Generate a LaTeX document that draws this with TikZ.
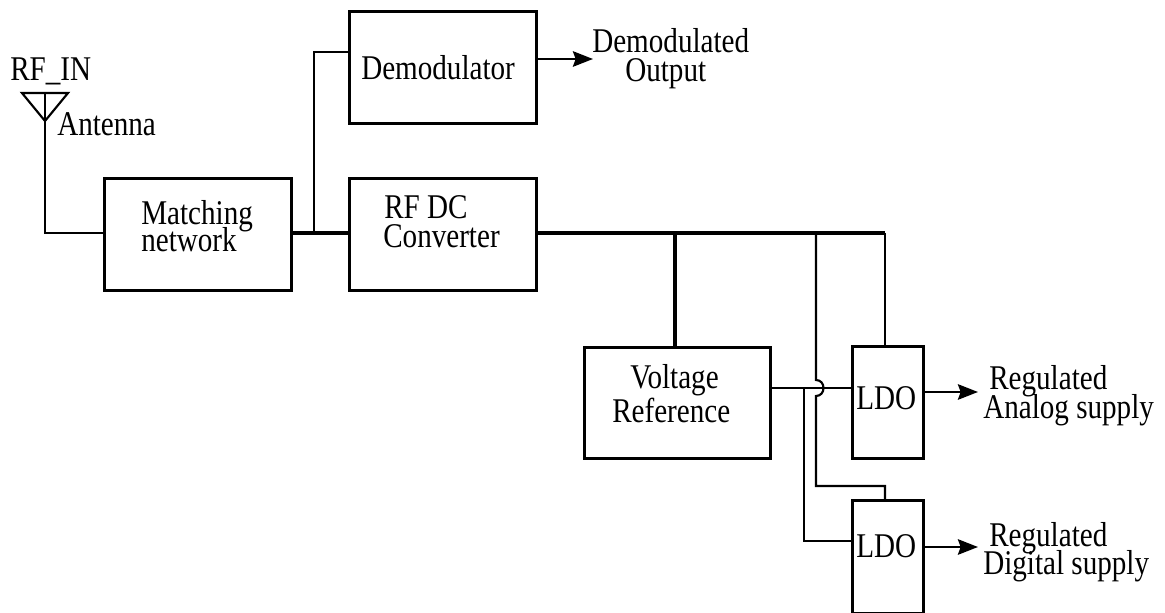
\documentclass[tikz,border=0pt]{standalone}
\usepackage{fontspec}
\setmainfont[FakeStretch=0.84]{Liberation Serif}
\usetikzlibrary{arrows.meta}
\tikzset{
    blockbox/.style={draw, line width=2.1pt, anchor=north west, inner sep=0pt},
    thinwire/.style={line width=1.6pt},
    thickwire/.style={line width=2.7pt},
    outwire/.style={line width=2.1pt, -{Stealth[length=15pt,width=11.5pt,inset=2pt]}},
    lbl/.style={font=\fontsize{26}{26}\selectfont, inner sep=0pt, anchor=base west}
}
\begin{document}
\begin{tikzpicture}[x=0.75pt, y=-0.75pt]
\useasboundingbox (0,0) rectangle (1165,613);
% blocks
\foreach \name/\x/\y/\w/\h in {%
    demod/348/10/187/112,
    match/103/177/187/112,
    conv/348/177/187/112,
    vref/583/346/186/111,
    ldoa/851/345/71/112,
    ldod/851/499/71/113
} {
    \node[blockbox, minimum width=\w*0.75pt, minimum height=\h*0.75pt] (\name) at (\x,\y) {};
}
% block texts
\node[lbl] (demodtxt) at (361,80) {Demodulator};
\node[lbl] (matchtxt) at (141,225) {Matching};
\node[lbl] (nettxt) at (141,252) {network};
\node[lbl] (rfdctxt) at (384,219) {RF DC};
\node[lbl] (convtxt) at (383,248) {Converter};
\node[lbl] (volttxt) at (630,388) {Voltage};
\node[lbl] (reftxt) at (612,422) {Reference};
\node[lbl] (ldoatxt) at (856,409) {LDO};
\node[lbl] (ldodtxt) at (856,557) {LDO};
% outer texts
\node[lbl] (rfin) at (10,81) {RF\_IN};
\node[lbl] (anttxt) at (57,136) {Antenna};
\node[lbl] (demout) at (592,53) {Demodulated};
\node[lbl] (outtxt) at (625,82) {Output};
\node[lbl] (rega) at (989,389) {Regulated};
\node[lbl] (anatxt) at (983,418) {Analog supply};
\node[lbl] (regd) at (989,546) {Regulated};
\node[lbl] (digtxt) at (983,574) {Digital supply};
% antenna
\coordinate (antl) at (22,93);
\coordinate (antr) at (68,93);
\coordinate (anttip) at (45,121);
\coordinate (anttop) at (45,93);
\draw[thinwire] (antl) -- (antr) -- (anttip) -- cycle;
\draw[thinwire] (anttop) -- (anttip) -- (45,233) -- (match.west |- 0,233);
% wires
\coordinate (split) at (314,233);
\draw[thickwire] (match.east |- split) -- (conv.west |- split);
\draw[thinwire] (split) |- (demod.west |- 0,52);
\coordinate (busa) at (675,233);
\coordinate (busb) at (816,233);
\coordinate (busc) at (885,233);
\draw[thickwire] (conv.east |- busa) -- (busc);
\draw[thickwire] (busa) -- (busa |- vref.north);
\draw[thinwire] (busc) -- (busc |- ldoa.north);
\coordinate (refj) at (804,388);
\draw[thinwire] (vref.east |- refj) -- (ldoa.west |- refj);
\draw[thinwire] (refj) |- (ldod.west |- 0,541);
\coordinate (jumptop) at (816,380);
\coordinate (jumpbot) at (816,396);
\draw[thinwire] (busb) -- (jumptop) .. controls (826,380) and (826,396) .. (jumpbot) -- (816,486) -| (ldod.north -| busc);
% outputs
\coordinate (demodend) at (593,59);
\coordinate (anaend) at (978,392);
\coordinate (digend) at (978,547);
\draw[outwire] (demod.east |- demodend) -- (demodend);
\draw[outwire] (ldoa.east |- anaend) -- (anaend);
\draw[outwire] (ldod.east |- digend) -- (digend);
\end{tikzpicture}
\end{document}
